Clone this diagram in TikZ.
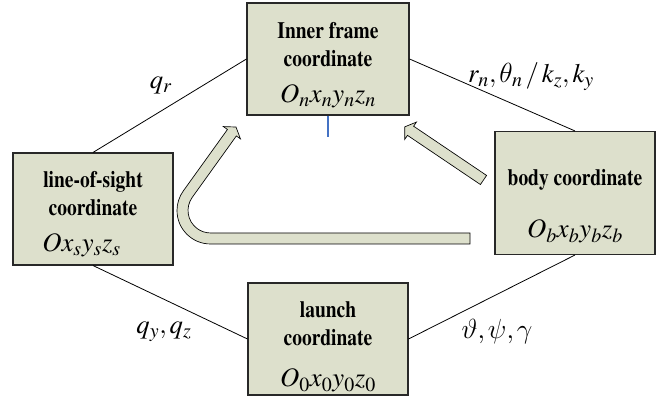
\documentclass[tikz,border=0pt]{standalone}
\usepackage[T1]{fontenc}
\usepackage{mathptmx}
\usepackage{graphicx}
\usepackage{tikz}
\usetikzlibrary{positioning,calc}
% letras gregas italicas
\DeclareSymbolFont{cmletters}{OML}{cmm}{m}{it}
\DeclareMathSymbol{\theta}{\mathord}{cmletters}{"12}
\DeclareMathSymbol{\vartheta}{\mathord}{cmletters}{"23}
\DeclareMathSymbol{\psi}{\mathord}{cmletters}{"20}
\DeclareMathSymbol{\gamma}{\mathord}{cmletters}{"0D}
\DeclareMathSizes{20}{20}{15}{12}
\definecolor{frameFill}{RGB}{221,224,204}
\definecolor{frameEdge}{RGB}{40,40,40}
\definecolor{tickBlue} {RGB}{68,114,196}
\newcommand{\pxl}{0.75pt}
\newcommand{\ttlfont}{\fontfamily{ptm}\bfseries}
\newcommand{\tall}[1]{\scalebox{1}[1.2]{#1}}

\begin{document}
\begin{tikzpicture}[x=0.75pt,y=0.75pt,
    cbox/.style={draw=frameEdge,fill=frameFill,line width=0.8pt,
                 minimum width=160*\pxl,minimum height=112*\pxl,inner sep=0pt},
    ttl/.style={font=\ttlfont\fontsize{14.6}{21}\selectfont,align=center,inner sep=0pt},
    eqn/.style={font=\fontsize{20}{24}\selectfont,inner sep=0pt},
    link/.style={line width=0.6pt},
    blk/.style={draw=black,fill=frameFill,line width=0.5pt,line join=miter}]
        \useasboundingbox (0,0) rectangle (664,398);
        % Caixas
        \node[cbox,minimum width=162*\pxl] (inner) at (328,339) {};
        \node[cbox] (los) at (93,189) {};
        \node[cbox,minimum height=123*\pxl] (body) at (575,205) {};
        \node[cbox] (launch) at (328,59) {};
        % Ligacoes
        \draw[link] (inner.west) -- (los.north);
        \draw[link] (inner.east) -- (body.north);
        \draw[link] (los.south) -- (launch.west);
        \draw[link] (launch.east) -- (body.south);
        % Textos das caixas
        \node[ttl] (innerT) at (328,353) {\tall{Inner frame}\\\tall{coordinate}};
        \node[eqn,anchor=base] (innerM) at (328,295) {$O_nx_ny_nz_n$};
        \node[ttl] (losT) at (93,204.5) {\tall{line-of-sight}\\\tall{coordinate}};
        \node[eqn,anchor=base west] (losM) at (42,146) {$Ox_sy_sz_s$};
        \node[ttl,anchor=base] (bodyT) at (575,212) {\tall{body coordinate}};
        \node[eqn,anchor=base] (bodyM) at (575,160) {$O_bx_by_bz_b$};
        \node[ttl] (launchT) at (328,74.5) {\tall{launch}\\\tall{coordinate}};
        \node[eqn,anchor=base] (launchM) at (328,11) {$O_0x_0y_0z_0$};
        % Rotulos
        \node[eqn] (qr) at (161,312) {$q_r$};
        \node[eqn] (rn) at (531,321) {$r_n,\theta_n\,/\,k_z,k_y$};
        \node[eqn] (qyz) at (164,66) {$q_y,q_z$};
        \node[eqn] (ang) at (497,66) {$\vartheta,\psi,\gamma$};
        % Marca azul
        \draw[tickBlue,line width=1.1pt] (inner.south) -- ++(0,-21);
        % Seta da direita
        \begin{scope}[shift={(483.5,218)},rotate=146]
          \draw[blk] (0,-5.5) -- (88,-5.5) -- (88,-10.5) -- (95,0)
            -- (88,10.5) -- (88,5.5) -- (0,5.5) -- cycle;
        \end{scope}
        % Seta em U
        \draw[blk] (470,154) -- (210.5,154)
          arc[start angle=270,end angle=144,radius=33.5]
          -- (227.45,268.51) -- (223.39,271.43) -- (236.0,270.95)
          -- (240.43,259.14) -- (236.37,262.06) -- (192.32,200.75)
          arc[start angle=144,end angle=270,radius=22.5]
          -- (470,165) -- cycle;
      \end{tikzpicture}
\end{document}
